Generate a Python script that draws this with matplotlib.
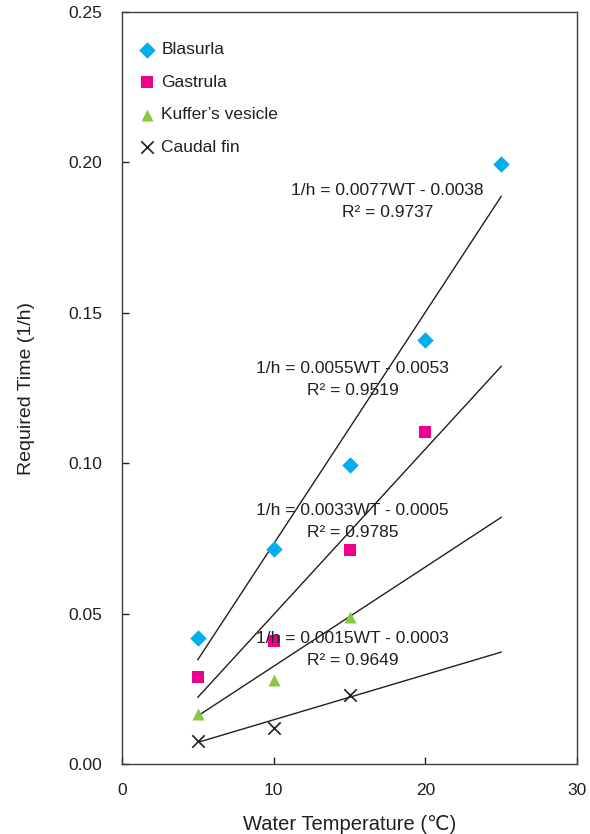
import numpy as np
import matplotlib
matplotlib.use('Agg')
import matplotlib.pyplot as plt

plt.rcParams['font.family'] = ['Liberation Sans', 'DejaVu Sans', 'Noto Sans CJK JP']

# Data
series_names = ['Blasurla', 'Gastrula', "Kuffer\u2019s vesicle", 'Caudal fin']
blasurla_x = [5, 10, 15, 20, 25]
blasurla_y = [0.042, 0.0715, 0.0995, 0.141, 0.1995]
gastrula_x = [5, 10, 15, 20]
gastrula_y = [0.029, 0.041, 0.071, 0.1105]
kuffer_x = [5, 10, 15]
kuffer_y = [0.0165, 0.028, 0.049]
caudal_x = [5, 10, 15]
caudal_y = [0.0075, 0.012, 0.023]

# fitted lines shown on chart (drawn over 5-25 degC)
slopes = [0.0077, 0.0055, 0.0033, 0.0015]
intercepts = [-0.0038, -0.0053, -0.0005, -0.0003]
r2_values = [0.9737, 0.9519, 0.9785, 0.9649]
fit_range = [5, 25]
# label anchor positions (data coords)
label_pos = [(17.5, 0.1905), (15.2, 0.1316), (15.2, 0.0844), (15.2, 0.0416)]

xs = [blasurla_x, gastrula_x, kuffer_x, caudal_x]
ys = [blasurla_y, gastrula_y, kuffer_y, caudal_y]
markers = ['D', 's', '^', 'x']
colors = ['#00aeef', '#ec008c', '#8dc63f', '#231f20']
sizes = [70, 75, 75, 80]

text_color = '#231f20'

fig = plt.figure(figsize=(5.9, 8.34), dpi=100)
ax = fig.add_axes([0.2068, 0.0839, 0.978 - 0.2068, 0.9856 - 0.0839])

for x, y, m, c, s, name in zip(xs, ys, markers, colors, sizes, series_names):
    if m == 'x':
        ax.scatter(x, y, marker=m, color=c, s=s, linewidths=1.2, label=name, zorder=3)
    else:
        ax.scatter(x, y, marker=m, color=c, s=s, linewidths=0, label=name, zorder=3)

xf = np.array(fit_range)
for a, b, r2, (tx, ty) in zip(slopes, intercepts, r2_values, label_pos):
    ax.plot(xf, a * xf + b, color=text_color, lw=1.0, zorder=2)
    sign = '-' if b < 0 else '+'
    ax.text(tx, ty, f'1/h = {a:.4f}WT {sign} {abs(b):.4f}', ha='center', va='center',
            fontsize=12.5, color=text_color, zorder=4)
    ax.text(tx, ty - 0.0073, f'R\u00b2 = {r2:.4f}', ha='center', va='center',
            fontsize=12.5, color=text_color, zorder=4)

ax.set_xlim(0, 30)
ax.set_ylim(0, 0.25)
ax.set_xticks([0, 10, 20, 30])
ax.set_yticks([0, 0.05, 0.10, 0.15, 0.20, 0.25])
ax.set_yticklabels(['0.00', '0.05', '0.10', '0.15', '0.20', '0.25'])
ax.tick_params(direction='in', length=5, width=1, labelsize=12.5, colors=text_color, pad=14)
ax.tick_params(axis='x', pad=14)
for sp in ax.spines.values():
    sp.set_color('#404040')
    sp.set_linewidth(1.0)

ax.set_xlabel('Water Temperature (\u2103)', fontsize=14.5, color=text_color, labelpad=12)
ax.set_ylabel('Required Time (1/h)', fontsize=14, color=text_color, labelpad=24)

leg = ax.legend(loc='upper left', frameon=False, fontsize=12.5, labelspacing=1.0,
                handletextpad=0.25, borderaxespad=0.6, handlelength=1.2,
                bbox_to_anchor=(-0.007, 0.983))
for t in leg.get_texts():
    t.set_color(text_color)

plt.savefig('out.png', dpi=100)
